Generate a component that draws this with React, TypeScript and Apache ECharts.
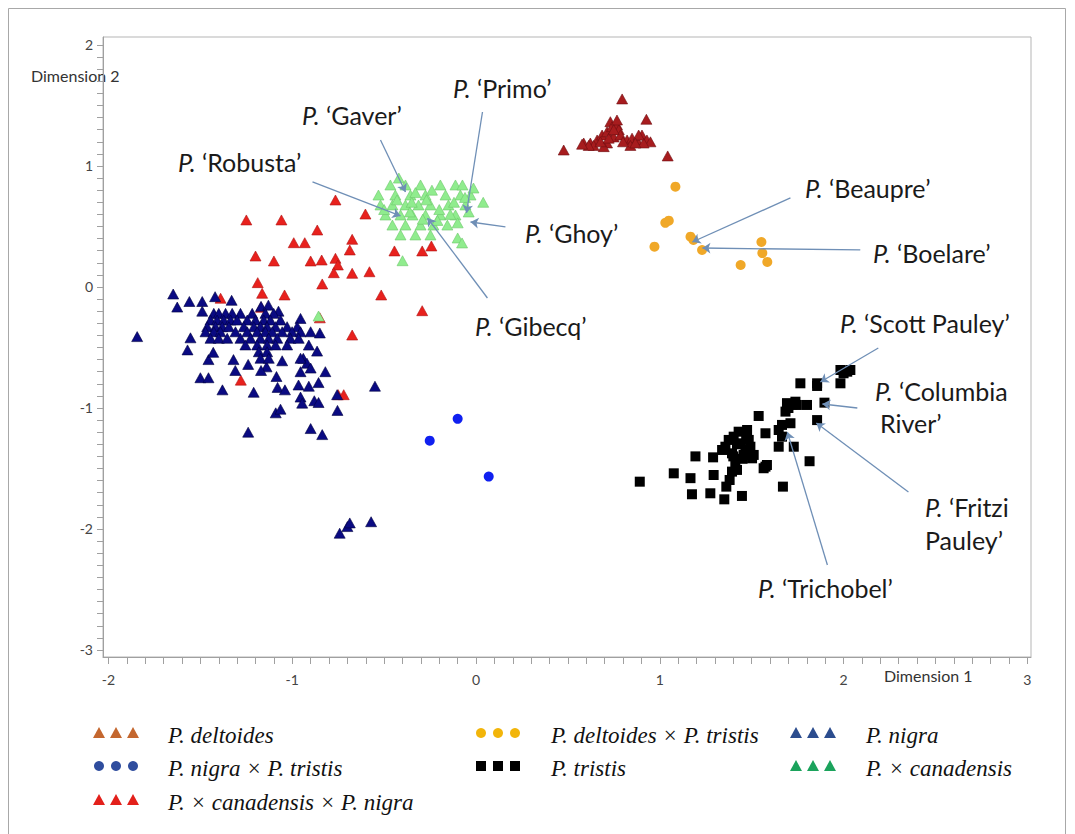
import React, { useEffect, useRef } from "react";
import * as echarts from "echarts";

const xTickLabels = [-2, -1, 0, 1, 2, 3];
const yTickLabels = [-3, -2, -1, 0, 1, 2];

const deltoides: number[][] = [
  [0.795, 1.554], [0.927, 1.386], [0.477, 1.132], [1.043, 1.083], [0.731, 1.366],
  [0.586, 1.19], [0.622, 1.19], [0.659, 1.215], [0.686, 1.256], [0.713, 1.283],
  [0.74, 1.325], [0.767, 1.34], [0.777, 1.3], [0.749, 1.24], [0.713, 1.19],
  [0.695, 1.16], [0.786, 1.256], [0.822, 1.215], [0.849, 1.23], [0.876, 1.215],
  [0.903, 1.256], [0.93, 1.215], [0.949, 1.2], [0.912, 1.19], [0.84, 1.17],
  [0.8, 1.2], [0.64, 1.17], [0.677, 1.2], [0.613, 1.17], [0.577, 1.18],
  [0.885, 1.256], [0.867, 1.19], [0.722, 1.23], [0.767, 1.38], [0.749, 1.3],
];

const deltoidesTristis: number[][] = [
  [1.085, 0.829], [1.049, 0.548], [1.03, 0.53], [0.971, 0.333], [1.167, 0.416],
  [1.183, 0.388], [1.23, 0.306], [1.44, 0.182], [1.553, 0.372], [1.558, 0.28], [1.585, 0.207],
];

const nigra: number[][] = [
  [-1.648, -0.058], [-1.844, -0.41], [-1.626, -0.166], [-1.56, -0.12], [-1.49, -0.12],
  [-1.42, -0.08], [-1.33, -0.11], [-1.49, -0.2], [-1.554, -0.42], [-1.57, -0.52],
  [-1.456, -0.6], [-1.5, -0.75], [-1.456, -0.75], [-1.43, -0.54], [-1.38, -0.85],
  [-1.32, -0.6], [-1.31, -0.69], [-1.24, -0.64], [-1.21, -0.87], [-1.24, -1.2],
  [-1.17, -0.16], [-1.13, -0.15], [-1.075, -0.2], [-0.955, -0.26], [-0.9, -0.37],
  [-0.85, -0.38], [-0.91, -0.48], [-0.865, -0.53], [-0.94, -0.59], [-0.92, -0.63],
  [-1.055, -0.61], [-1.086, -0.74], [-0.955, -0.7], [-0.9, -0.67], [-0.82, -0.7],
  [-1.14, -0.66], [-1.17, -0.69], [-0.966, -0.81], [-0.91, -0.82], [-0.857, -0.79],
  [-1.08, -0.83], [-1.04, -0.85], [-0.955, -0.91], [-0.946, -0.96], [-0.88, -0.94],
  [-0.857, -0.955], [-0.756, -0.89], [-0.754, -1.02], [-1.09, -1.04], [-1.064, -1.01],
  [-0.9, -1.17], [-0.837, -1.22], [-0.55, -0.82],
  [-0.742, -2.035], [-0.7, -1.98], [-0.687, -1.95], [-0.571, -1.94],
  [-1.427, -0.218], [-1.4, -0.218], [-1.363, -0.218], [-1.327, -0.218], [-1.282, -0.218],
  [-1.218, -0.218], [-1.146, -0.218], [-1.101, -0.218],
  [-1.445, -0.273], [-1.409, -0.273], [-1.373, -0.273], [-1.336, -0.273], [-1.3, -0.273],
  [-1.245, -0.273], [-1.2, -0.273], [-1.155, -0.273], [-1.119, -0.273], [-1.064, -0.273],
  [-1.463, -0.328], [-1.418, -0.328], [-1.381, -0.328], [-1.345, -0.328], [-1.264, -0.328],
  [-1.209, -0.328], [-1.173, -0.328], [-1.137, -0.328], [-1.091, -0.328], [-1.028, -0.328], [-0.973, -0.328],
  [-1.472, -0.37], [-1.427, -0.37], [-1.391, -0.37], [-1.309, -0.37], [-1.245, -0.37],
  [-1.191, -0.37], [-1.146, -0.37], [-1.109, -0.37], [-1.055, -0.37], [-1.001, -0.37], [-0.955, -0.37],
  [-1.445, -0.424], [-1.4, -0.424], [-1.354, -0.424], [-1.282, -0.424], [-1.227, -0.424],
  [-1.173, -0.424], [-1.128, -0.424], [-1.082, -0.424], [-1.01, -0.424], [-0.965, -0.424],
  [-1.255, -0.479], [-1.191, -0.479], [-1.137, -0.479], [-1.091, -0.479], [-1.028, -0.479],
  [-1.182, -0.535], [-1.137, -0.535], [-1.173, -0.589], [-1.128, -0.589], [-0.955, -0.589],
];

const nigraTristis: number[][] = [
  [-0.1, -1.09], [-0.252, -1.27], [0.069, -1.567],
];

const tristis: number[][] = [
  [0.891, -1.609], [1.076, -1.54], [1.167, -1.58], [1.175, -1.713], [1.275, -1.705],
  [1.351, -1.755], [1.447, -1.727], [1.194, -1.4], [1.29, -1.408], [1.293, -1.554],
  [1.362, -1.65], [1.38, -1.595], [1.357, -1.32], [1.393, -1.375], [1.429, -1.196],
  [1.475, -1.182], [1.438, -1.292], [1.484, -1.264], [1.456, -1.388], [1.502, -1.416],
  [1.411, -1.457], [1.42, -1.512], [1.466, -1.347], [1.538, -1.066], [1.575, -1.209],
  [1.565, -1.498], [1.583, -1.471], [1.67, -1.65], [1.647, -1.182], [1.665, -1.237],
  [1.647, -1.32], [1.729, -1.32], [1.665, -1.14], [1.711, -1.126], [1.684, -1.03],
  [1.692, -0.96], [1.738, -0.948], [1.801, -0.975], [1.765, -0.796], [1.856, -0.796],
  [1.983, -0.796], [2.0, -0.713], [2.037, -0.686], [1.896, -0.956], [1.856, -1.1],
  [1.815, -1.44], [1.339, -1.347], [1.375, -1.264], [1.402, -1.237], [1.493, -1.32],
  [1.511, -1.388], [1.393, -1.526], [1.856, -0.818], [1.983, -0.686], [2.02, -0.7],
  [1.746, -0.975], [1.575, -1.485], [1.72, -0.97], [1.7, -1.0], [1.42, -1.3],
  [1.45, -1.42], [1.4, -1.4], [1.47, -1.25],
];

const canadensis: number[][] = [
  [-0.466, 0.843], [-0.384, 0.843], [-0.302, 0.843], [-0.194, 0.843], [-0.112, 0.843], [-0.074, 0.843],
  [-0.531, 0.76], [-0.439, 0.76], [-0.357, 0.76], [-0.275, 0.76], [-0.166, 0.76], [-0.085, 0.76], [-0.03, 0.76],
  [-0.52, 0.678], [-0.455, 0.678], [-0.384, 0.678], [-0.313, 0.678], [-0.248, 0.678], [-0.15, 0.678], [-0.058, 0.678],
  [-0.493, 0.595], [-0.411, 0.595], [-0.346, 0.595], [-0.275, 0.595], [-0.194, 0.595], [-0.112, 0.595],
  [-0.455, 0.512], [-0.384, 0.512], [-0.302, 0.512], [-0.232, 0.512], [-0.156, 0.512],
  [-0.411, 0.43], [-0.33, 0.43], [-0.248, 0.43],
  [-0.4, 0.217], [-0.42, 0.9], [-0.857, -0.24],
  [-0.43, 0.72], [-0.35, 0.7], [-0.27, 0.72], [-0.2, 0.64], [-0.12, 0.7], [-0.36, 0.62],
  [-0.29, 0.56], [-0.21, 0.55], [-0.14, 0.6], [-0.5, 0.64], [-0.06, 0.74], [-0.04, 0.62],
  [-0.24, 0.8], [-0.33, 0.78], [-0.1, 0.53],
  [0.039, 0.7], [-0.014, 0.818], [-0.1, 0.405], [-0.076, 0.364],
];

const canadensisNigra: number[][] = [
  [-0.765, 0.719], [-1.25, 0.554], [-1.059, 0.554], [-0.602, 0.603], [-0.864, 0.471],
  [-0.992, 0.366], [-0.932, 0.366], [-0.674, 0.394], [-0.687, 0.306], [-1.2, 0.256],
  [-1.1, 0.215], [-0.9, 0.215], [-0.84, 0.223], [-0.765, 0.237], [-0.752, 0.182],
  [-0.774, 0.118], [-0.674, 0.113], [-0.58, 0.126], [-0.444, 0.298], [-0.293, 0.298],
  [-0.243, 0.339], [-1.188, 0.036], [-0.837, 0.025], [-1.164, -0.052], [-1.042, -0.066],
  [-0.516, -0.066], [-1.39, -0.093], [-1.17, -0.168], [-0.293, -0.196], [-0.85, -0.255],
  [-0.674, -0.397], [-1.28, -0.77], [-0.75, -0.89], [-0.72, -0.89],
];

// annotations: label, tail [x,y], head [x,y] in data units
const cultivarNames = [
  "Primo", "Gaver", "Robusta", "Ghoy", "Gibecq", "Beaupre", "Boelare",
  "Scott Pauley", "Columbia River", "Fritzi Pauley", "Trichobel",
];
const arrowTails: number[][] = [
  [0.035, 1.446], [-0.52, 1.215], [-0.89, 0.868], [0.16, 0.496], [0.062, -0.091],
  [1.711, 0.736], [2.091, 0.306], [2.189, -0.504], [2.075, -1.0], [2.353, -1.694], [1.912, -2.298],
];
const arrowHeads: number[][] = [
  [-0.052, 0.612], [-0.384, 0.785], [-0.411, 0.587], [-0.03, 0.537], [-0.264, 0.57],
  [1.177, 0.372], [1.232, 0.322], [1.874, -0.785], [1.885, -0.967], [1.852, -1.124], [1.694, -1.198],
];

const legendNames = [
  "P. deltoides", "P. deltoides × P. tristis", "P. nigra",
  "P. nigra × P. tristis", "P. tristis", "P. × canadensis",
  "P. × canadensis × P. nigra",
];
const legendColors = ["#c4672f", "#f2b50a", "#2c4d8e", "#2f4d9e", "#000000", "#1ba35c", "#e3201b"];
const legendShapes = ["triangle", "circle", "triangle", "circle", "square", "triangle", "triangle"];

export default function App() {
  const ref = useRef<HTMLDivElement>(null);
  useEffect(() => {
    const chart = echarts.init(ref.current!, null, { renderer: "svg" });
    const minorX: number[] = [];
    for (let i = 0; i <= 50; i++) minorX.push(Math.round((xTickLabels[0] + i * 0.1) * 10) / 10);
    const minorY: number[] = [];
    for (let i = 0; i <= 50; i++) minorY.push(Math.round((yTickLabels[0] + i * 0.1) * 10) / 10);

    const sansFont = "Lato";
    const annFont = 25;
    const rich = {
      i: { fontStyle: "italic", fontSize: annFont, fontFamily: sansFont, fill: "#1a1a1a" },
      n: { fontSize: annFont, fontFamily: sansFont, fill: "#1a1a1a" },
    };
    const annText = (x: number, y: number, s: string, italicP = true) => ({
      type: "text",
      x,
      y,
      style: {
        text: italicP ? `{i|P.}{n| ${s}}` : `{n|${s}}`,
        rich,
        verticalAlign: "middle",
        align: "left",
      },
    });

    const labelPos: any[] = [
      [453, 88], [302, 115], [178, 162], [525, 233], [475, 326],
      [805, 188], [873, 253], [840, 323], [875, 391], [925, 507], [758, 588],
    ];
    const graphics: any[] = [];
    graphics.push({
      type: "rect",
      shape: { x: 8.5, y: 8.5, width: 1057, height: 840 },
      style: { fill: "none", stroke: "#a8a8a8", lineWidth: 1 },
      silent: true,
    });
    cultivarNames.forEach((nm, i) => {
      const [x, y] = labelPos[i];
      if (nm === "Columbia River") {
        graphics.push(annText(x, y, "\u2018Columbia"));
        graphics.push(annText(x + 5, y + 32, "River\u2019", false));
      } else if (nm === "Fritzi Pauley") {
        graphics.push(annText(x, y, "\u2018Fritzi"));
        graphics.push(annText(x, y + 33, "Pauley\u2019", false));
      } else {
        graphics.push(annText(x, y, `\u2018${nm}\u2019`));
      }
    });
    graphics.push({
      type: "text", x: 31, y: 75,
      style: { text: "Dimension 2", fontFamily: sansFont, fontSize: 16, fill: "#333", verticalAlign: "middle" },
    });
    graphics.push({
      type: "text", x: 884, y: 675,
      style: { text: "Dimension 1", fontFamily: sansFont, fontSize: 16, fill: "#333", verticalAlign: "middle" },
    });

    // legend
    const colSym = [99, 481, 796];
    const colText = [168, 551, 866];
    const rowY = [733, 766, 800];
    legendNames.forEach((nm, i) => {
      const col = i === 6 ? 0 : i % 3;
      const row = Math.floor(i / 3);
      const cy = rowY[row];
      for (let k = 0; k < 3; k++) {
        const cx = colSym[col] + k * 17;
        const color = legendColors[i];
        const shp = legendShapes[i];
        if (shp === "triangle") {
          graphics.push({
            type: "polygon",
            shape: { points: [[cx, cy - 6], [cx + 6, cy + 5], [cx - 6, cy + 5]] },
            style: { fill: color },
            silent: true,
          });
        } else if (shp === "circle") {
          graphics.push({ type: "circle", shape: { cx, cy, r: 5 }, style: { fill: color }, silent: true });
        } else {
          graphics.push({ type: "rect", shape: { x: cx - 5, y: cy - 5, width: 10, height: 10 }, style: { fill: color }, silent: true });
        }
      }
      graphics.push({
        type: "text",
        x: colText[col],
        y: cy + 2,
        style: {
          text: nm,
          fontFamily: "Liberation Serif",
          fontStyle: "italic",
          fontSize: 23,
          fill: "#111",
          verticalAlign: "middle",
        },
      });
    });

    const tri = (name: string, data: number[][], color: string, border: string, z = 2) => ({
      name,
      type: "scatter",
      data,
      symbol: "triangle",
      symbolSize: [11, 10],
      itemStyle: { color, borderColor: border, borderWidth: 0.6, opacity: 1 },
      z,
      emphasis: { disabled: true },
    });

    const option: any = {
      animation: false,
      backgroundColor: "#ffffff",
      grid: { left: 103, right: 44, top: 37, bottom: 177, show: true, borderColor: "#b5b5b5", borderWidth: 1 },
      xAxis: {
        type: "value",
        min: -2.03,
        max: 3.02,
        splitLine: { show: false },
        axisLine: { show: true, onZero: false, lineStyle: { color: "#a0a0a0" } },
        axisTick: { show: true, customValues: minorX, length: 7, lineStyle: { color: "#a0a0a0" } },
        axisLabel: { customValues: xTickLabels, color: "#444", fontFamily: sansFont, fontSize: 14, margin: 15 },
      },
      yAxis: {
        type: "value",
        min: -3.058,
        max: 2.066,
        splitLine: { show: false },
        axisLine: { show: true, onZero: false, lineStyle: { color: "#a0a0a0" } },
        axisTick: { show: true, customValues: minorY, length: 6, lineStyle: { color: "#a0a0a0" } },
        axisLabel: { customValues: yTickLabels, color: "#444", fontFamily: sansFont, fontSize: 14, margin: 10 },
      },
      series: [
        tri("P. × canadensis × P. nigra", canadensisNigra, "#e8211d", "#b01010", 2),
        tri("P. nigra", nigra, "#0a0a82", "#000040", 3),
        tri("P. × canadensis", canadensis, "#90ec8e", "#6cc86a", 4),
        tri("P. deltoides", deltoides, "#a71c1e", "#6e0e10", 3),
        {
          name: "P. deltoides × P. tristis", type: "scatter", data: deltoidesTristis, symbol: "circle",
          symbolSize: 10, itemStyle: { color: "#f0a828", opacity: 1 }, z: 3, emphasis: { disabled: true },
        },
        {
          name: "P. nigra × P. tristis", type: "scatter", data: nigraTristis, symbol: "circle",
          symbolSize: 10, itemStyle: { color: "#1020f0", opacity: 1 }, z: 3, emphasis: { disabled: true },
        },
        {
          name: "P. tristis", type: "scatter", data: tristis, symbol: "rect",
          symbolSize: 10, itemStyle: { color: "#000000", opacity: 1 }, z: 3, emphasis: { disabled: true },
        },
        {
          name: "arrows", type: "scatter", data: [], z: 6,
          markLine: {
            silent: true,
            animation: false,
            symbol: ["none", "arrow"],
            symbolSize: 8,
            label: { show: false },
            lineStyle: { color: "#6f8fb6", width: 1.3, type: "solid" },
            itemStyle: { color: "#4f76ad" },
            emphasis: { disabled: true },
            data: arrowTails.map((t, i) => [
              { coord: t, itemStyle: { color: "#4f76ad" } },
              { coord: arrowHeads[i] },
            ]),
          },
        },
      ],
      graphic: graphics,
    };
    chart.setOption(option);
    return () => chart.dispose();
  }, []);
  return (
    <div
      ref={ref}
      style={{ position: "absolute", left: 0, top: 0, width: 1075, height: 834, background: "#fff" }}
    />
  );
}
